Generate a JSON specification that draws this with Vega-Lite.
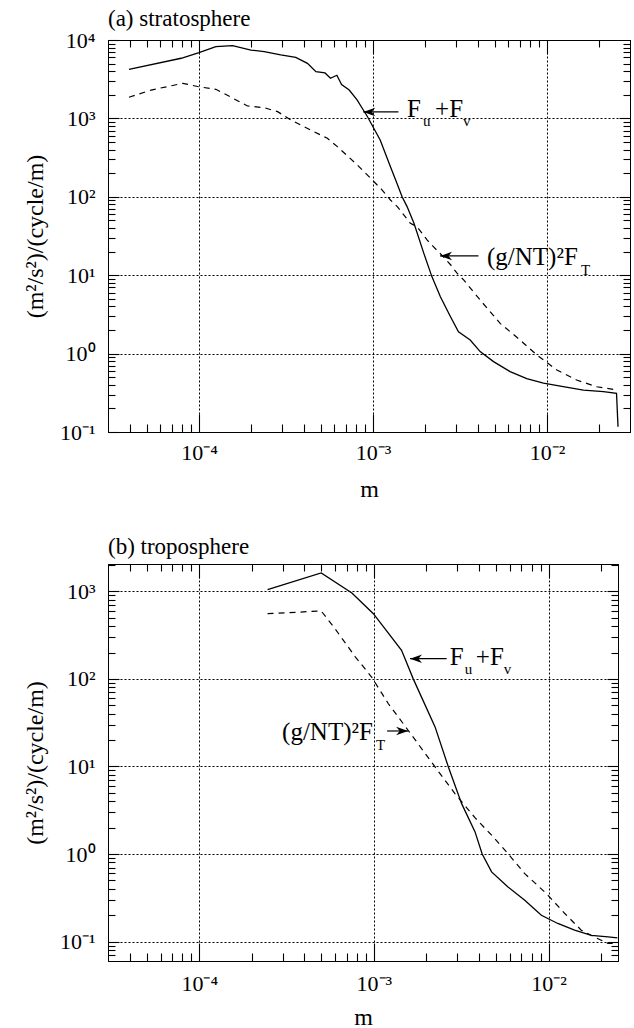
{
  "$schema": "https://vega.github.io/schema/vega-lite/v6.json",
  "background": "white",
  "padding": {"left": 22, "top": 7, "right": 2, "bottom": 2},
  "spacing": 33,
  "config": {
    "font": "Liberation Serif",
    "view": {"stroke": "black", "strokeWidth": 1},
    "axis": {
      "labelFont": "Liberation Serif", "titleFont": "Liberation Serif",
      "labelColor": "black", "titleColor": "black", "titleFontWeight": "normal",
      "domainColor": "black", "tickColor": "black", "gridColor": "black",
      "gridDash": [2, 2], "gridWidth": 1, "labelFontSize": 22, "titleFontSize": 24,
      "labelOverlap": false, "labelFlush": false, "tickWidth": 1.1, "domainWidth": 1,
      "minExtent": 0
    }
  },
  "datasets": {
    "strat": [
      {"series": "Fuv", "m": 0.0000396, "v": 4230}, {"series": "Fuv", "m": 0.000079, "v": 5850},
      {"series": "Fuv", "m": 0.0001, "v": 6890}, {"series": "Fuv", "m": 0.000125, "v": 8220},
      {"series": "Fuv", "m": 0.000156, "v": 8460}, {"series": "Fuv", "m": 0.000199, "v": 7450},
      {"series": "Fuv", "m": 0.000237, "v": 7100}, {"series": "Fuv", "m": 0.000295, "v": 6440},
      {"series": "Fuv", "m": 0.00036, "v": 6000}, {"series": "Fuv", "m": 0.00042, "v": 5040},
      {"series": "Fuv", "m": 0.00047, "v": 3950}, {"series": "Fuv", "m": 0.00053, "v": 3800},
      {"series": "Fuv", "m": 0.00057, "v": 3250}, {"series": "Fuv", "m": 0.00062, "v": 3550},
      {"series": "Fuv", "m": 0.00066, "v": 2700}, {"series": "Fuv", "m": 0.00073, "v": 2300},
      {"series": "Fuv", "m": 0.00081, "v": 1720}, {"series": "Fuv", "m": 0.00088, "v": 1280},
      {"series": "Fuv", "m": 0.00093, "v": 1050}, {"series": "Fuv", "m": 0.0011, "v": 530},
      {"series": "Fuv", "m": 0.00126, "v": 242}, {"series": "Fuv", "m": 0.00135, "v": 164},
      {"series": "Fuv", "m": 0.00147, "v": 100}, {"series": "Fuv", "m": 0.00157, "v": 75},
      {"series": "Fuv", "m": 0.00172, "v": 46}, {"series": "Fuv", "m": 0.00196, "v": 19},
      {"series": "Fuv", "m": 0.00218, "v": 9.6}, {"series": "Fuv", "m": 0.00244, "v": 5.3},
      {"series": "Fuv", "m": 0.00278, "v": 3.0}, {"series": "Fuv", "m": 0.0031, "v": 1.9},
      {"series": "Fuv", "m": 0.00362, "v": 1.49}, {"series": "Fuv", "m": 0.00413, "v": 1.06},
      {"series": "Fuv", "m": 0.00493, "v": 0.79}, {"series": "Fuv", "m": 0.00614, "v": 0.59},
      {"series": "Fuv", "m": 0.00765, "v": 0.48}, {"series": "Fuv", "m": 0.00954, "v": 0.42},
      {"series": "Fuv", "m": 0.0124, "v": 0.378}, {"series": "Fuv", "m": 0.0162, "v": 0.343},
      {"series": "Fuv", "m": 0.0211, "v": 0.327}, {"series": "Fuv", "m": 0.0251, "v": 0.312},
      {"series": "Fuv", "m": 0.0256, "v": 0.117},
      {"series": "FT", "m": 0.0000396, "v": 1860}, {"series": "FT", "m": 0.0000531, "v": 2300},
      {"series": "FT", "m": 0.0000807, "v": 2800}, {"series": "FT", "m": 0.0001, "v": 2530},
      {"series": "FT", "m": 0.000125, "v": 2350}, {"series": "FT", "m": 0.000153, "v": 1860},
      {"series": "FT", "m": 0.00019, "v": 1440}, {"series": "FT", "m": 0.000237, "v": 1370},
      {"series": "FT", "m": 0.000283, "v": 1220}, {"series": "FT", "m": 0.000337, "v": 955},
      {"series": "FT", "m": 0.000438, "v": 711}, {"series": "FT", "m": 0.000547, "v": 557},
      {"series": "FT", "m": 0.000624, "v": 436}, {"series": "FT", "m": 0.00082, "v": 250},
      {"series": "FT", "m": 0.00113, "v": 122}, {"series": "FT", "m": 0.00126, "v": 91},
      {"series": "FT", "m": 0.00138, "v": 75}, {"series": "FT", "m": 0.00164, "v": 46},
      {"series": "FT", "m": 0.00179, "v": 41.6}, {"series": "FT", "m": 0.00205, "v": 28},
      {"series": "FT", "m": 0.00223, "v": 23}, {"series": "FT", "m": 0.00255, "v": 17},
      {"series": "FT", "m": 0.0028, "v": 13.5}, {"series": "FT", "m": 0.00304, "v": 10.6},
      {"series": "FT", "m": 0.00332, "v": 8.7}, {"series": "FT", "m": 0.00413, "v": 4.83},
      {"series": "FT", "m": 0.00538, "v": 2.43}, {"series": "FT", "m": 0.00701, "v": 1.49},
      {"series": "FT", "m": 0.00874, "v": 0.96}, {"series": "FT", "m": 0.0114, "v": 0.618},
      {"series": "FT", "m": 0.0148, "v": 0.46}, {"series": "FT", "m": 0.0193, "v": 0.378},
      {"series": "FT", "m": 0.0253, "v": 0.343}
    ],
    "trop": [
      {"series": "Fuv", "m": 0.000246, "v": 1043}, {"series": "Fuv", "m": 0.000499, "v": 1620},
      {"series": "Fuv", "m": 0.000748, "v": 957}, {"series": "Fuv", "m": 0.000993, "v": 555},
      {"series": "Fuv", "m": 0.00144, "v": 212}, {"series": "Fuv", "m": 0.00168, "v": 100},
      {"series": "Fuv", "m": 0.00224, "v": 28.3}, {"series": "Fuv", "m": 0.00267, "v": 9.86},
      {"series": "Fuv", "m": 0.00318, "v": 3.76}, {"series": "Fuv", "m": 0.00379, "v": 1.8},
      {"series": "Fuv", "m": 0.00417, "v": 1.0}, {"series": "Fuv", "m": 0.00472, "v": 0.625},
      {"series": "Fuv", "m": 0.00586, "v": 0.421}, {"series": "Fuv", "m": 0.00731, "v": 0.297},
      {"series": "Fuv", "m": 0.0091, "v": 0.2}, {"series": "Fuv", "m": 0.0113, "v": 0.161},
      {"series": "Fuv", "m": 0.0141, "v": 0.135}, {"series": "Fuv", "m": 0.0176, "v": 0.118},
      {"series": "Fuv", "m": 0.0219, "v": 0.113}, {"series": "Fuv", "m": 0.0248, "v": 0.11},
      {"series": "FT", "m": 0.000246, "v": 555}, {"series": "FT", "m": 0.000499, "v": 596},
      {"series": "FT", "m": 0.0006, "v": 372}, {"series": "FT", "m": 0.00078, "v": 180},
      {"series": "FT", "m": 0.00097, "v": 105}, {"series": "FT", "m": 0.00121, "v": 52},
      {"series": "FT", "m": 0.00157, "v": 25.9}, {"series": "FT", "m": 0.00224, "v": 9.86},
      {"series": "FT", "m": 0.00291, "v": 4.9}, {"series": "FT", "m": 0.00379, "v": 2.6},
      {"series": "FT", "m": 0.00472, "v": 1.64}, {"series": "FT", "m": 0.00586, "v": 1.01},
      {"series": "FT", "m": 0.00731, "v": 0.597}, {"series": "FT", "m": 0.00973, "v": 0.353},
      {"series": "FT", "m": 0.0124, "v": 0.209}, {"series": "FT", "m": 0.0154, "v": 0.135},
      {"series": "FT", "m": 0.0183, "v": 0.113}, {"series": "FT", "m": 0.0219, "v": 0.095},
      {"series": "FT", "m": 0.0248, "v": 0.095}
    ]
  },
  "vconcat": [
    {
      "width": 522, "height": 392,
      "title": {"text": "(a) stratosphere", "anchor": "start", "frame": "group", "offset": -20, "baseline": "alphabetic", "fontSize": 23, "fontWeight": "normal", "font": "Liberation Serif", "color": "black"},
      "data": {"name": "strat"},
      "resolve": {"axis": {"x": "independent", "y": "independent"}},
      "layer": [
        {
          "transform": [{"filter": "datum.series == 'Fuv'"}],
          "mark": {"type": "line", "color": "black", "strokeWidth": 1.3, "clip": true},
          "encoding": {
            "x": {"field": "m", "type": "quantitative",
              "scale": {"type": "log", "domain": [0.00003, 0.03], "nice": false, "zero": false},
              "axis": {"orient": "bottom", "title": "m", "titlePadding": 14,
                "values": [0.00004,0.00005,0.00006,0.00007,0.00008,0.00009,0.0001,0.0002,0.0003,0.0004,0.0005,0.0006,0.0007,0.0008,0.0009,0.001,0.002,0.003,0.004,0.005,0.006,0.007,0.008,0.009,0.01,0.02],
                "labelExpr": "abs(log(datum.value)/LN10 - round(log(datum.value)/LN10)) > 0.01 ? '' : '10' + (datum.value < 1 ? '⁻' : '') + ['⁰','¹','²','³','⁴'][abs(round(log(datum.value)/LN10))]",
                "tickSize": -18, "labelPadding": 28,
                "tickDash": {"condition": {"test": "abs(log(datum.value)/LN10 - round(log(datum.value)/LN10)) > 0.01", "value": [8, 100]}, "value": [100, 0]},
                "grid": true,
                "gridOpacity": {"condition": {"test": "abs(log(datum.value)/LN10 - round(log(datum.value)/LN10)) > 0.01", "value": 0}, "value": 1}}},
            "y": {"field": "v", "type": "quantitative",
              "scale": {"type": "log", "domain": [0.1, 10000], "nice": false, "zero": false},
              "axis": {"orient": "left", "title": "(m²/s²)/(cycle/m)", "titlePadding": 12,
                "values": [0.1,0.2,0.3,0.4,0.5,0.6,0.7,0.8,0.9,1,2,3,4,5,6,7,8,9,10,20,30,40,50,60,70,80,90,100,200,300,400,500,600,700,800,900,1000,2000,3000,4000,5000,6000,7000,8000,9000,10000],
                "labelExpr": "abs(log(datum.value)/LN10 - round(log(datum.value)/LN10)) > 0.01 ? '' : '10' + (datum.value < 1 ? '⁻' : '') + ['⁰','¹','²','³','⁴'][abs(round(log(datum.value)/LN10))]",
                "tickSize": -11, "labelPadding": 24,
                "tickDash": {"condition": {"test": "abs(log(datum.value)/LN10 - round(log(datum.value)/LN10)) > 0.01", "value": [7, 100]}, "value": [100, 0]},
                "grid": true,
                "gridOpacity": {"condition": {"test": "abs(log(datum.value)/LN10 - round(log(datum.value)/LN10)) > 0.01", "value": 0}, "value": 1}}}
          }
        },
        {
          "transform": [{"filter": "datum.series == 'FT'"}],
          "mark": {"type": "line", "color": "black", "strokeWidth": 1.2, "strokeDash": [6, 5], "clip": true},
          "encoding": {
            "x": {"field": "m", "type": "quantitative",
              "axis": {"orient": "top", "title": null, "labels": false, "grid": false,
                "values": [0.00004,0.00005,0.00006,0.00007,0.00008,0.00009,0.0001,0.0002,0.0003,0.0004,0.0005,0.0006,0.0007,0.0008,0.0009,0.001,0.002,0.003,0.004,0.005,0.006,0.007,0.008,0.009,0.01,0.02],
                "tickSize": -14,
                "tickDash": {"condition": {"test": "abs(log(datum.value)/LN10 - round(log(datum.value)/LN10)) > 0.01", "value": [7, 100]}, "value": [100, 0]}}},
            "y": {"field": "v", "type": "quantitative",
              "axis": {"orient": "right", "title": null, "labels": false, "grid": false,
                "values": [0.2,0.3,0.4,0.5,0.6,0.7,0.8,0.9,1,2,3,4,5,6,7,8,9,10,20,30,40,50,60,70,80,90,100,200,300,400,500,600,700,800,900,1000,2000,3000,4000,5000,6000,7000,8000,9000],
                "tickSize": -11,
                "tickDash": {"condition": {"test": "abs(log(datum.value)/LN10 - round(log(datum.value)/LN10)) > 0.01", "value": [7, 100]}, "value": [100, 0]}}}
          }
        },
        {"data": {"values": [{}]}, "mark": {"type": "rule", "color": "black", "strokeWidth": 1.2},
         "encoding": {"x": {"datum": 0.000879, "axis": null}, "x2": {"datum": 0.0014}, "y": {"datum": 1208, "axis": null}}},
        {"data": {"values": [{}]}, "mark": {"type": "point", "shape": "M0,0L2,-0.7L1.4,0L2,0.7Z", "filled": true, "color": "black", "opacity": 1, "size": 144, "strokeWidth": 0},
         "encoding": {"x": {"datum": 0.000879, "axis": null}, "y": {"datum": 1208, "axis": null}}},
        {"data": {"values": [{}]}, "mark": {"type": "text", "text": "F", "font": "Liberation Serif", "fontSize": 25, "align": "left", "baseline": "alphabetic", "color": "black"},
         "encoding": {"x": {"datum": 0.00157, "axis": null}, "y": {"datum": 1042, "axis": null}}},
        {"data": {"values": [{}]}, "mark": {"type": "text", "text": "u", "font": "Liberation Serif", "fontSize": 15, "align": "left", "baseline": "alphabetic", "color": "black", "dx": 16, "dy": 9},
         "encoding": {"x": {"datum": 0.00157, "axis": null}, "y": {"datum": 1042, "axis": null}}},
        {"data": {"values": [{}]}, "mark": {"type": "text", "text": "+F", "font": "Liberation Serif", "fontSize": 25, "align": "left", "baseline": "alphabetic", "color": "black", "dx": 28},
         "encoding": {"x": {"datum": 0.00157, "axis": null}, "y": {"datum": 1042, "axis": null}}},
        {"data": {"values": [{}]}, "mark": {"type": "text", "text": "v", "font": "Liberation Serif", "fontSize": 15, "align": "left", "baseline": "alphabetic", "color": "black", "dx": 56, "dy": 9},
         "encoding": {"x": {"datum": 0.00157, "axis": null}, "y": {"datum": 1042, "axis": null}}},
        {"data": {"values": [{}]}, "mark": {"type": "rule", "color": "black", "strokeWidth": 1.2},
         "encoding": {"x": {"datum": 0.00243, "axis": null}, "x2": {"datum": 0.00404}, "y": {"datum": 17.6, "axis": null}}},
        {"data": {"values": [{}]}, "mark": {"type": "point", "shape": "M0,0L2,-0.7L1.4,0L2,0.7Z", "filled": true, "color": "black", "opacity": 1, "size": 144, "strokeWidth": 0},
         "encoding": {"x": {"datum": 0.00243, "axis": null}, "y": {"datum": 17.6, "axis": null}}},
        {"data": {"values": [{}]}, "mark": {"type": "text", "text": "(g/NT)²F", "font": "Liberation Serif", "fontSize": 25, "align": "left", "baseline": "alphabetic", "color": "black"},
         "encoding": {"x": {"datum": 0.00452, "axis": null}, "y": {"datum": 13.5, "axis": null}}},
        {"data": {"values": [{}]}, "mark": {"type": "text", "text": "T", "font": "Liberation Serif", "fontSize": 15, "align": "left", "baseline": "alphabetic", "color": "black", "dx": 94, "dy": 10},
         "encoding": {"x": {"datum": 0.00452, "axis": null}, "y": {"datum": 13.5, "axis": null}}}
      ]
    },
    {
      "width": 510, "height": 397,
      "title": {"text": "(b) troposphere", "anchor": "start", "frame": "group", "offset": -23, "baseline": "alphabetic", "fontSize": 23, "fontWeight": "normal", "font": "Liberation Serif", "color": "black"},
      "data": {"name": "trop"},
      "resolve": {"axis": {"x": "independent", "y": "independent"}},
      "layer": [
        {
          "transform": [{"filter": "datum.series == 'Fuv'"}],
          "mark": {"type": "line", "color": "black", "strokeWidth": 1.3, "clip": true},
          "encoding": {
            "x": {"field": "m", "type": "quantitative",
              "scale": {"type": "log", "domain": [0.00003, 0.025], "nice": false, "zero": false},
              "axis": {"orient": "bottom", "title": "m", "titlePadding": 11,
                "values": [0.00004,0.00005,0.00006,0.00007,0.00008,0.00009,0.0001,0.0002,0.0003,0.0004,0.0005,0.0006,0.0007,0.0008,0.0009,0.001,0.002,0.003,0.004,0.005,0.006,0.007,0.008,0.009,0.01,0.02],
                "labelExpr": "abs(log(datum.value)/LN10 - round(log(datum.value)/LN10)) > 0.01 ? '' : '10' + (datum.value < 1 ? '⁻' : '') + ['⁰','¹','²','³','⁴'][abs(round(log(datum.value)/LN10))]",
                "tickSize": -18, "labelPadding": 30,
                "tickDash": {"condition": {"test": "abs(log(datum.value)/LN10 - round(log(datum.value)/LN10)) > 0.01", "value": [8, 100]}, "value": [100, 0]},
                "grid": true,
                "gridOpacity": {"condition": {"test": "abs(log(datum.value)/LN10 - round(log(datum.value)/LN10)) > 0.01", "value": 0}, "value": 1}}},
            "y": {"field": "v", "type": "quantitative",
              "scale": {"type": "log", "domain": [0.06, 2050], "nice": false, "zero": false},
              "axis": {"orient": "left", "title": "(m²/s²)/(cycle/m)", "titlePadding": 12,
                "values": [0.07,0.08,0.09,0.1,0.2,0.3,0.4,0.5,0.6,0.7,0.8,0.9,1,2,3,4,5,6,7,8,9,10,20,30,40,50,60,70,80,90,100,200,300,400,500,600,700,800,900,1000,2000],
                "labelExpr": "abs(log(datum.value)/LN10 - round(log(datum.value)/LN10)) > 0.01 ? '' : '10' + (datum.value < 1 ? '⁻' : '') + ['⁰','¹','²','³','⁴'][abs(round(log(datum.value)/LN10))]",
                "tickSize": -11, "labelPadding": 24,
                "tickDash": {"condition": {"test": "abs(log(datum.value)/LN10 - round(log(datum.value)/LN10)) > 0.01", "value": [7, 100]}, "value": [100, 0]},
                "grid": true,
                "gridOpacity": {"condition": {"test": "abs(log(datum.value)/LN10 - round(log(datum.value)/LN10)) > 0.01", "value": 0}, "value": 1}}}
          }
        },
        {
          "transform": [{"filter": "datum.series == 'FT'"}],
          "mark": {"type": "line", "color": "black", "strokeWidth": 1.2, "strokeDash": [6, 5], "clip": true},
          "encoding": {
            "x": {"field": "m", "type": "quantitative",
              "axis": {"orient": "top", "title": null, "labels": false, "grid": false,
                "values": [0.00004,0.00005,0.00006,0.00007,0.00008,0.00009,0.0001,0.0002,0.0003,0.0004,0.0005,0.0006,0.0007,0.0008,0.0009,0.001,0.002,0.003,0.004,0.005,0.006,0.007,0.008,0.009,0.01,0.02],
                "tickSize": -14,
                "tickDash": {"condition": {"test": "abs(log(datum.value)/LN10 - round(log(datum.value)/LN10)) > 0.01", "value": [7, 100]}, "value": [100, 0]}}},
            "y": {"field": "v", "type": "quantitative",
              "axis": {"orient": "right", "title": null, "labels": false, "grid": false,
                "values": [0.07,0.08,0.09,0.1,0.2,0.3,0.4,0.5,0.6,0.7,0.8,0.9,1,2,3,4,5,6,7,8,9,10,20,30,40,50,60,70,80,90,100,200,300,400,500,600,700,800,900,1000,2000],
                "tickSize": -11,
                "tickDash": {"condition": {"test": "abs(log(datum.value)/LN10 - round(log(datum.value)/LN10)) > 0.01", "value": [7, 100]}, "value": [100, 0]}}}
          }
        },
        {"data": {"values": [{}]}, "mark": {"type": "rule", "color": "black", "strokeWidth": 1.2},
         "encoding": {"x": {"datum": 0.00161, "axis": null}, "x2": {"datum": 0.00261}, "y": {"datum": 170, "axis": null}}},
        {"data": {"values": [{}]}, "mark": {"type": "point", "shape": "M0,0L2,-0.7L1.4,0L2,0.7Z", "filled": true, "color": "black", "opacity": 1, "size": 144, "strokeWidth": 0},
         "encoding": {"x": {"datum": 0.00161, "axis": null}, "y": {"datum": 170, "axis": null}}},
        {"data": {"values": [{}]}, "mark": {"type": "text", "text": "F", "font": "Liberation Serif", "fontSize": 25, "align": "left", "baseline": "alphabetic", "color": "black"},
         "encoding": {"x": {"datum": 0.00272, "axis": null}, "y": {"datum": 143, "axis": null}}},
        {"data": {"values": [{}]}, "mark": {"type": "text", "text": "u", "font": "Liberation Serif", "fontSize": 15, "align": "left", "baseline": "alphabetic", "color": "black", "dx": 15, "dy": 9},
         "encoding": {"x": {"datum": 0.00272, "axis": null}, "y": {"datum": 143, "axis": null}}},
        {"data": {"values": [{}]}, "mark": {"type": "text", "text": "+F", "font": "Liberation Serif", "fontSize": 25, "align": "left", "baseline": "alphabetic", "color": "black", "dx": 26},
         "encoding": {"x": {"datum": 0.00272, "axis": null}, "y": {"datum": 143, "axis": null}}},
        {"data": {"values": [{}]}, "mark": {"type": "text", "text": "v", "font": "Liberation Serif", "fontSize": 15, "align": "left", "baseline": "alphabetic", "color": "black", "dx": 54, "dy": 9},
         "encoding": {"x": {"datum": 0.00272, "axis": null}, "y": {"datum": 143, "axis": null}}},
        {"data": {"values": [{}]}, "mark": {"type": "rule", "color": "black", "strokeWidth": 1.2},
         "encoding": {"x": {"datum": 0.00119, "axis": null}, "x2": {"datum": 0.00157}, "y": {"datum": 25.4, "axis": null}}},
        {"data": {"values": [{}]}, "mark": {"type": "point", "shape": "M0,0L-2,-0.7L-1.4,0L-2,0.7Z", "filled": true, "color": "black", "opacity": 1, "size": 144, "strokeWidth": 0},
         "encoding": {"x": {"datum": 0.00157, "axis": null}, "y": {"datum": 25.4, "axis": null}}},
        {"data": {"values": [{}]}, "mark": {"type": "text", "text": "(g/NT)²F", "font": "Liberation Serif", "fontSize": 25, "align": "left", "baseline": "alphabetic", "color": "black"},
         "encoding": {"x": {"datum": 0.000298, "axis": null}, "y": {"datum": 19.9, "axis": null}}},
        {"data": {"values": [{}]}, "mark": {"type": "text", "text": "T", "font": "Liberation Serif", "fontSize": 15, "align": "left", "baseline": "alphabetic", "color": "black", "dx": 94, "dy": 10},
         "encoding": {"x": {"datum": 0.000298, "axis": null}, "y": {"datum": 19.9, "axis": null}}}
      ]
    }
  ]
}
